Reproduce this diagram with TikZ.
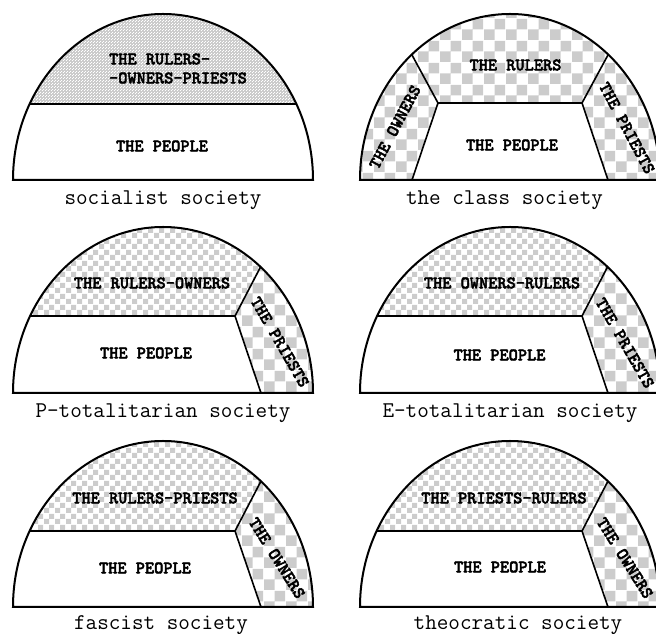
\documentclass[tikz,border=0pt]{standalone}
\usepackage{fontspec}
\newfontfamily\groupfont{lmmonolt10-bold.otf}[FakeBold=2.5]
\usetikzlibrary{patterns}

% fill patterns
\pgfdeclarepatternformonly{bigchecks}{\pgfqpoint{0pt}{0pt}}{\pgfqpoint{22pt}{22pt}}{\pgfqpoint{22pt}{22pt}}{%
  \pgfpathrectangle{\pgfqpoint{0pt}{0pt}}{\pgfqpoint{11pt}{11pt}}%
  \pgfpathrectangle{\pgfqpoint{11pt}{11pt}}{\pgfqpoint{11pt}{11pt}}%
  \pgfusepath{fill}}
\pgfdeclarepatternformonly{smallchecks}{\pgfqpoint{0pt}{0pt}}{\pgfqpoint{11pt}{11pt}}{\pgfqpoint{11pt}{11pt}}{%
  \pgfpathrectangle{\pgfqpoint{0pt}{0pt}}{\pgfqpoint{5.5pt}{5.5pt}}%
  \pgfpathrectangle{\pgfqpoint{5.5pt}{5.5pt}}{\pgfqpoint{5.5pt}{5.5pt}}%
  \pgfusepath{fill}}
\pgfdeclarepatternformonly{finedots}{\pgfqpoint{0pt}{0pt}}{\pgfqpoint{3pt}{3pt}}{\pgfqpoint{3pt}{3pt}}{%
  \pgfpathrectangle{\pgfqpoint{0pt}{0pt}}{\pgfqpoint{1pt}{1pt}}%
  \pgfpathrectangle{\pgfqpoint{1.5pt}{1.5pt}}{\pgfqpoint{1pt}{1pt}}%
  \pgfusepath{fill}}

\newcommand{\halfdome}{(-150,0) arc[start angle=180, end angle=0, x radius=150, y radius=166] -- cycle}

\begin{document}
\begin{tikzpicture}[x=1pt, y=1pt,
    outline/.style={line width=2pt},
    divide/.style={line width=1.6pt},
    bigcheck/.style={pattern=bigchecks, pattern color=gray!40},
    smallcheck/.style={pattern=smallchecks, pattern color=gray!40},
    dotfill/.style={preaction={fill=gray!40}, pattern=finedots, pattern color=white},
    group/.style={font=\groupfont\fontsize{17.5}{19}\selectfont, inner sep=0pt},
    society/.style={font=\ttfamily\fontsize{22.5}{24}\selectfont, anchor=base, inner sep=0pt}]
  \useasboundingbox (0,0) rectangle (656,634);

  % Socialist society
  \begin{scope}[shift={(163,454)}]
    \begin{scope}
      \clip \halfdome;
      \fill[dotfill] (-160,76) rectangle (160,173);
      \draw[divide] (-160,76) -- (160,76);
    \end{scope}
    \draw[outline] \halfdome;
    \node[group, align=left] (d1-top) at (15,111.5) {THE RULERS-\\-OWNERS-PRIESTS};
    \node[group] (d1-people) at (-1,34) {THE PEOPLE};
    \node[society] (d1-name) at (0,-25) {socialist society};
  \end{scope}

  % Class society
  \begin{scope}[shift={(510,454)}]
    \begin{scope}
      \clip \halfdome;
      \fill[bigcheck] (-160,0) rectangle (160,173);
      \fill[white] (-98,0) -- (-72,77) -- (72,77) -- (98,0) -- cycle;
      \draw[divide] (-124,173) -- (-72,77) -- (-98,0);
      \draw[divide] (124,173) -- (72,77) -- (98,0);
      \draw[divide] (-72,77) -- (72,77);
    \end{scope}
    \draw[outline] \halfdome;
    \node[group] (d2-top) at (5.5,115) {THE RULERS};
    \node[group] (d2-people) at (2,35) {THE PEOPLE};
    \node[group, rotate=62] (d2-left) at (-115,53) {THE OWNERS};
    \node[group, rotate=-62] (d2-right) at (117,52) {THE PRIESTS};
    \node[society] (d2-name) at (-5.5,-25) {the class society};
  \end{scope}

  % P-totalitarian society
  \begin{scope}[shift={(163,241)}]
    \begin{scope}
      \clip \halfdome;
      \fill[smallcheck] (-160,77) -- (72,77) -- (122,173) -- (-160,173) -- cycle;
      \fill[bigcheck] (72,77) -- (122,173) -- (160,173) -- (160,0) -- (98,0) -- cycle;
      \draw[divide] (-160,77) -- (72,77);
      \draw[divide] (122,173) -- (72,77) -- (98,0);
    \end{scope}
    \draw[outline] \halfdome;
    \node[group] (d3-top) at (-11,110) {THE RULERS-OWNERS};
    \node[group] (d3-people) at (-17,40) {THE PEOPLE};
    \node[group, rotate=-60] (d3-right) at (117,51) {THE PRIESTS};
    \node[society] (d3-name) at (0,-25) {P-totalitarian society};
  \end{scope}

  % E-totalitarian society
  \begin{scope}[shift={(510,241)}]
    \begin{scope}
      \clip \halfdome;
      \fill[smallcheck] (-160,77) -- (72,77) -- (122,173) -- (-160,173) -- cycle;
      \fill[bigcheck] (72,77) -- (122,173) -- (160,173) -- (160,0) -- (98,0) -- cycle;
      \draw[divide] (-160,77) -- (72,77);
      \draw[divide] (122,173) -- (72,77) -- (98,0);
    \end{scope}
    \draw[outline] \halfdome;
    \node[group] (d4-top) at (-8,110) {THE OWNERS-RULERS};
    \node[group] (d4-people) at (-10.5,38) {THE PEOPLE};
    \node[group, rotate=-60] (d4-right) at (115,50) {THE PRIESTS};
    \node[society] (d4-name) at (0,-25) {E-totalitarian society};
  \end{scope}

  % Fascist society
  \begin{scope}[shift={(163,27)}]
    \begin{scope}
      \clip \halfdome;
      \fill[smallcheck] (-160,76) -- (72,76) -- (122,172) -- (-160,172) -- cycle;
      \fill[bigcheck] (72,76) -- (122,172) -- (160,172) -- (160,0) -- (98,0) -- cycle;
      \draw[divide] (-160,76) -- (72,76);
      \draw[divide] (122,172) -- (72,76) -- (98,0);
    \end{scope}
    \draw[outline] \halfdome;
    \node[group] (d5-top) at (-8,109) {THE RULERS-PRIESTS};
    \node[group] (d5-people) at (-18,39) {THE PEOPLE};
    \node[group, rotate=-58] (d5-right) at (114,49) {THE OWNERS};
    \node[society] (d5-name) at (-2,-23) {fascist society};
  \end{scope}

  % Theocratic society
  \begin{scope}[shift={(510,27)}]
    \begin{scope}
      \clip \halfdome;
      \fill[smallcheck] (-160,76) -- (72,76) -- (122,172) -- (-160,172) -- cycle;
      \fill[bigcheck] (72,76) -- (122,172) -- (160,172) -- (160,0) -- (98,0) -- cycle;
      \draw[divide] (-160,76) -- (72,76);
      \draw[divide] (122,172) -- (72,76) -- (98,0);
    \end{scope}
    \draw[outline] \halfdome;
    \node[group] (d6-top) at (-6,109) {THE PRIESTS-RULERS};
    \node[group] (d6-people) at (-10,40) {THE PEOPLE};
    \node[group, rotate=-58] (d6-right) at (115,49) {THE OWNERS};
    \node[society] (d6-name) at (8,-23) {theocratic society};
  \end{scope}
\end{tikzpicture}
\end{document}
